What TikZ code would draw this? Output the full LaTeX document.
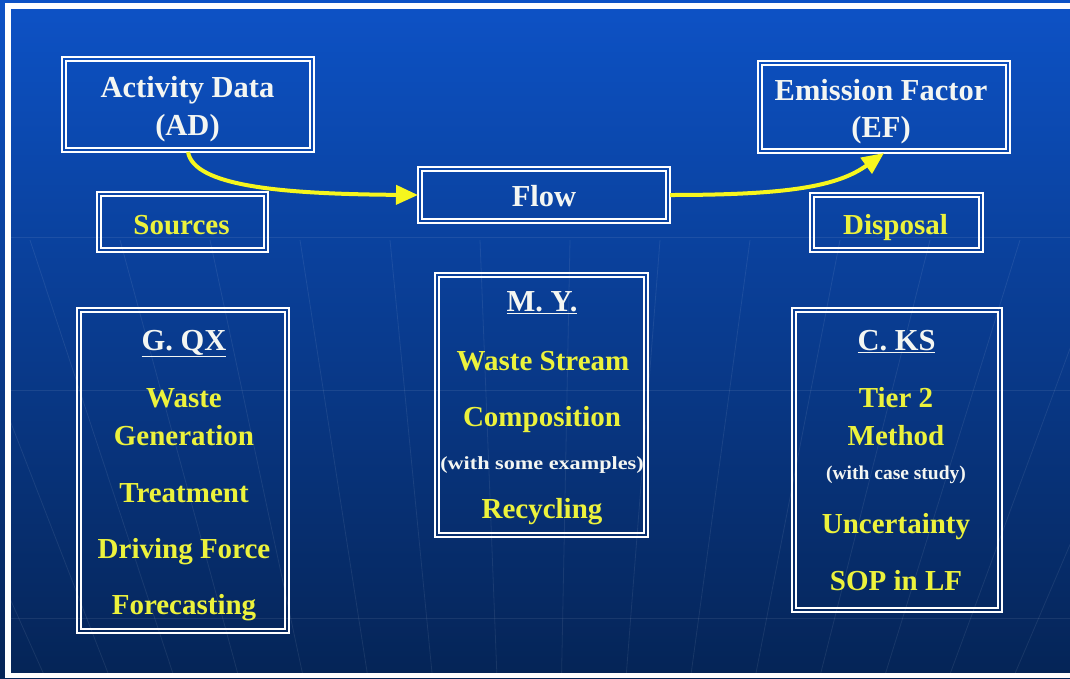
\documentclass[tikz,border=0pt]{standalone}
\usepackage{fontspec}
\setmainfont{Liberation Serif}
\usepackage{graphicx}
\usetikzlibrary{arrows.meta}
\definecolor{bgtop}{RGB}{13,82,198}
\definecolor{bgmid}{RGB}{10,58,140}
\definecolor{bgbot}{RGB}{5,36,86}
\definecolor{itemyellow}{RGB}{236,242,60}
\definecolor{arrowyellow}{RGB}{246,246,30}
\definecolor{titlewhite}{RGB}{244,246,242}
\begin{document}
\begin{tikzpicture}[x=1pt,y=-1pt,
  boxframe/.style={draw=white, line width=1.9pt, inner sep=0pt, outer sep=0pt},
  innerline/.style={draw=white, line width=1.5pt},
  ttl/.style={text=titlewhite, font=\fontsize{30.5}{36}\selectfont\bfseries, anchor=base, inner sep=0pt},
  itm/.style={text=itemyellow, font=\fontsize{29}{34}\selectfont\bfseries, anchor=base, inner sep=0pt},
  nte/.style={text=titlewhite, anchor=base, inner sep=0pt},
  conn/.style={draw=arrowyellow, line width=4pt, -{Triangle[length=22pt,width=19pt]}},
  faint/.style={draw=white, opacity=0.08, line width=0.8pt}]
\useasboundingbox (0,0) rectangle (1070,678);
% background
\shade[top color=bgtop, middle color=bgmid, bottom color=bgbot] (0,0) rectangle (1070,678);
% faint background texture
\begin{scope}
\clip (11,240) rectangle (1070,673);
\foreach \xt in {-420,-330,...,1500}
  \draw[faint] (\xt,240) -- ({540+(\xt-540)*0.72},673);
\end{scope}
\foreach \yy in {237,390,618}
  \draw[faint] (11,\yy) -- (1070,\yy);
% white frame
\fill[white] (5,3) rectangle (1070,9);
\fill[white] (5,3) rectangle (11,678);
\fill[white] (5,673) rectangle (1070,678);
% boxes
\node[boxframe, minimum width=252pt, minimum height=95pt] (ad) at (188,104.5) {};
\node[boxframe, minimum width=171pt, minimum height=60pt] (src) at (182.5,222) {};
\node[boxframe, minimum width=252pt, minimum height=56pt] (flow) at (544,195) {};
\node[boxframe, minimum width=252pt, minimum height=92pt] (ef) at (884,107) {};
\node[boxframe, minimum width=173pt, minimum height=59pt] (disp) at (896.5,222.5) {};
\node[boxframe, minimum width=212pt, minimum height=325pt] (gqx) at (183,470.5) {};
\node[boxframe, minimum width=213pt, minimum height=264pt] (my) at (541.5,405) {};
\node[boxframe, minimum width=210pt, minimum height=304pt] (cks) at (897,460) {};
\foreach \b in {ad,src,flow,ef,disp,gqx,my,cks}
  \draw[innerline] ([shift={(4,4)}]\b.north west) rectangle ([shift={(-4,-4)}]\b.south east);
% texts top row
\node[ttl] (adt1) at (187.5,97) {Activity Data};
\node[ttl] (adt2) at (187.5,135) {(AD)};
\node[itm] (srct) at (181.5,234) {Sources};
\node[ttl] (flowt) at (544,206) {Flow};
\node[ttl] (eft1) at (881,100) {Emission Factor};
\node[ttl] (eft2) at (881,137) {(EF)};
\node[itm] (dispt) at (895.5,234) {Disposal};
% left column
\node[ttl] (gqx0) at (184,350) {\underline{G. QX}};
\node[itm] (gqx1) at (184,407) {Waste};
\node[itm] (gqx2) at (184,445) {Generation};
\node[itm] (gqx3) at (184,502) {Treatment};
\node[itm] (gqx4) at (184,558) {Driving Force};
\node[itm] (gqx5) at (184,614) {Forecasting};
% middle column
\node[ttl] (my0) at (542,311) {\underline{M. Y.}};
\node[itm] (my1) at (543,370) {Waste Stream};
\node[itm] (my2) at (542,426) {Composition};
\node[nte, font=\fontsize{18.5}{22}\selectfont\bfseries] (my3) at (542,469) {\scalebox{1.2}[1]{(with some examples)}};
\node[itm] (my4) at (542,518) {Recycling};
% right column
\node[ttl] (cks0) at (896.5,350) {\underline{C. KS}};
\node[itm] (cks1) at (896,407) {Tier 2};
\node[itm] (cks2) at (896,445) {Method};
\node[nte, font=\fontsize{19.5}{23}\selectfont\bfseries] (cks3) at (896,479) {(with case study)};
\node[itm] (cks4) at (896,533) {Uncertainty};
\node[itm] (cks5) at (896,590) {SOP in LF};
% connectors
\draw[conn] (ad.south) .. controls (194,186) and (280,194) .. (flow.west);
\draw[conn] (flow.east) .. controls (790,195) and (838,186) .. (ef.south);
\end{tikzpicture}
\end{document}
